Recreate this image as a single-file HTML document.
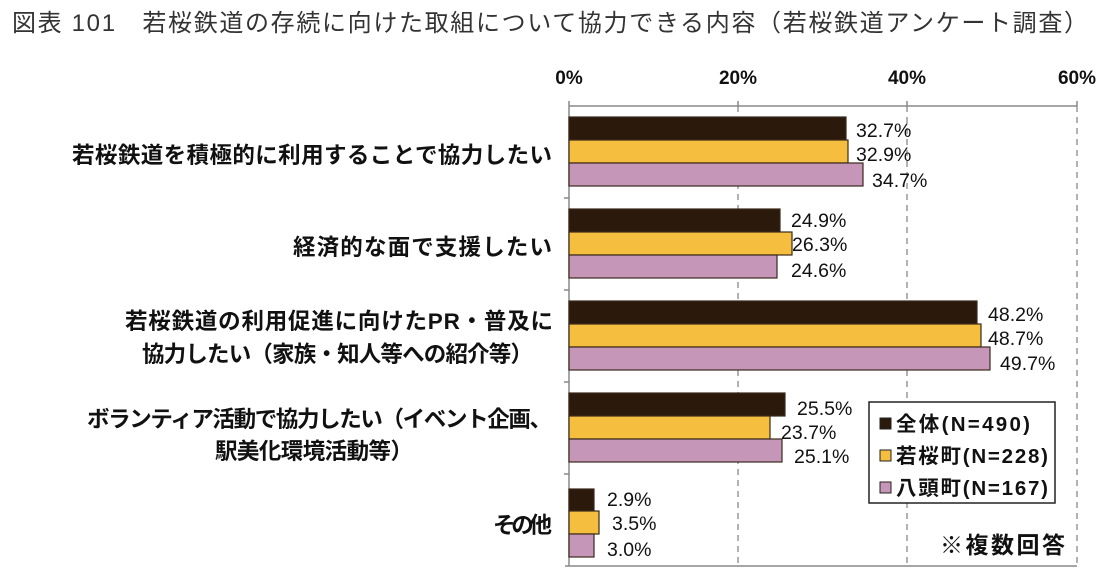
<!DOCTYPE html>
<html><head><meta charset="utf-8"><style>
body{margin:0;background:#fff;width:1105px;height:584px;overflow:hidden}
svg{display:block}
text{font-family:"Liberation Sans","Noto Sans CJK JP",sans-serif}
</style></head><body>
<svg width="1105" height="584" viewBox="0 0 1105 584">
<text x="12" y="31" font-size="24" fill="#333" textLength="1076" lengthAdjust="spacing">図表 101　若桜鉄道の存続に向けた取組について協力できる内容（若桜鉄道アンケート調査）</text>
<g font-size="19" font-weight="bold" fill="#111" text-anchor="middle">
<text x="569" y="84">0%</text><text x="738" y="84">20%</text><text x="907" y="84">40%</text><text x="1077" y="84">60%</text>
</g>
<g stroke="#999" stroke-width="1.5" stroke-dasharray="6,5">
<line x1="738" y1="106" x2="738" y2="566"/><line x1="907" y1="106" x2="907" y2="566"/><line x1="1077" y1="106" x2="1077" y2="566"/>
</g>
<g stroke="#888" stroke-width="1.5">
<line x1="569" y1="106" x2="1077" y2="106"/>
<line x1="569" y1="106" x2="569" y2="566"/>
<line x1="565" y1="566" x2="1077" y2="566"/>
<line x1="738" y1="101" x2="738" y2="106"/><line x1="907" y1="101" x2="907" y2="106"/><line x1="1077" y1="101" x2="1077" y2="106"/><line x1="569" y1="101" x2="569" y2="106"/>
<line x1="564" y1="198" x2="569" y2="198"/><line x1="564" y1="290" x2="569" y2="290"/><line x1="564" y1="382" x2="569" y2="382"/><line x1="564" y1="474" x2="569" y2="474"/>
</g>
<g stroke="#3a2a1a" stroke-width="1.2">
<rect x="569" y="117" width="277" height="23" fill="#2b1a0c"/>
<rect x="569" y="140" width="279" height="23" fill="#f6be3e"/>
<rect x="569" y="163" width="294" height="23" fill="#c596b8"/>
<rect x="569" y="209" width="211" height="23" fill="#2b1a0c"/>
<rect x="569" y="232" width="223" height="23" fill="#f6be3e"/>
<rect x="569" y="255" width="208" height="23" fill="#c596b8"/>
<rect x="569" y="301" width="408" height="23" fill="#2b1a0c"/>
<rect x="569" y="324" width="412" height="23" fill="#f6be3e"/>
<rect x="569" y="347" width="421" height="23" fill="#c596b8"/>
<rect x="569" y="393" width="216" height="23" fill="#2b1a0c"/>
<rect x="569" y="416" width="201" height="23" fill="#f6be3e"/>
<rect x="569" y="439" width="213" height="23" fill="#c596b8"/>
<rect x="569" y="489" width="25" height="22" fill="#2b1a0c"/>
<rect x="569" y="511" width="30" height="23" fill="#f6be3e"/>
<rect x="569" y="534" width="25" height="23" fill="#c596b8"/>
</g>
<g font-size="19.5" fill="#111">
<text x="856" y="137">32.7%</text><text x="856" y="161">32.9%</text><text x="872" y="187">34.7%</text>
<text x="791" y="227">24.9%</text><text x="792" y="251">26.3%</text><text x="791" y="277">24.6%</text>
<text x="988" y="321">48.2%</text><text x="988" y="345">48.7%</text><text x="1000" y="370">49.7%</text>
<text x="797" y="415">25.5%</text><text x="781" y="439">23.7%</text><text x="794" y="463">25.1%</text>
<text x="607" y="506">2.9%</text><text x="612" y="530">3.5%</text><text x="607" y="556">3.0%</text>
</g>
<g font-size="22.5" font-weight="bold" fill="#111" lengthAdjust="spacing">
<text x="72" y="163" textLength="480">若桜鉄道を積極的に利用することで協力したい</text>
<text x="293" y="255" textLength="259">経済的な面で支援したい</text>
<text x="125" y="329" textLength="428">若桜鉄道の利用促進に向けたPR・普及に</text>
<text x="142" y="362" textLength="391">協力したい（家族・知人等への紹介等）</text>
<text x="87" y="427" textLength="465">ボランティア活動で協力したい（イベント企画、</text>
<text x="215" y="459" textLength="198">駅美化環境活動等）</text>
<text x="493" y="533" textLength="59">その他</text>
</g>
<rect x="869" y="402" width="186" height="101" fill="#fff" stroke="#222" stroke-width="1.5"/>
<g stroke="#222" stroke-width="1">
<rect x="880" y="418" width="11" height="11" fill="#2b1a0c"/>
<rect x="880" y="450" width="11" height="11" fill="#f6be3e"/>
<rect x="880" y="482" width="11" height="11" fill="#c596b8"/>
</g>
<g font-size="20.5" font-weight="bold" fill="#111" lengthAdjust="spacing">
<text x="896" y="431" textLength="134">全体(N=490)</text>
<text x="896" y="463" textLength="152">若桜町(N=228)</text>
<text x="896" y="495" textLength="152">八頭町(N=167)</text>
</g>
<text x="940" y="553" font-size="23" font-weight="bold" fill="#111" textLength="125" lengthAdjust="spacing">※複数回答</text>
</svg>
</body></html>
